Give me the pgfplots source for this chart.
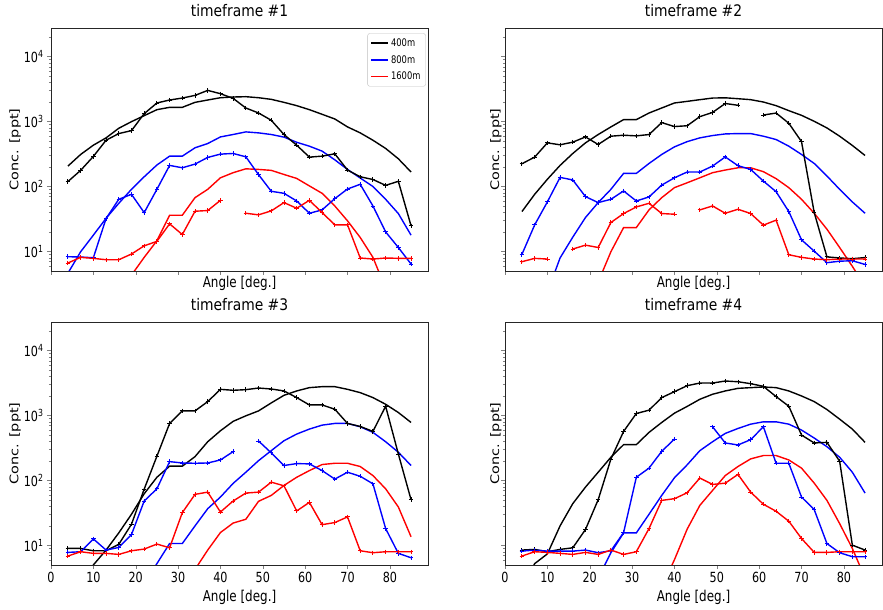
\documentclass[border=0pt]{standalone}
\usepackage{fontspec}
\setmainfont{DejaVu Sans}[FakeStretch=0.8]
\newfontfamily\tffont{DejaVu Sans}[FakeStretch=0.87]
\newfontfamily\rotfont{DejaVu Sans}
\usepackage{pgfplots}
\usepackage{pgfplotstable}
\pgfplotsset{compat=1.18}

% columns: angle, measured (meas) and modelled (model) concentration for the three distances
\pgfplotstableread{
ang meas400 model400 meas800 model800 meas1600 model1600
4  119  206  8.30 4.63 6.64 nan
7  177  311  8.20 9.89 8.11 nan
10 290  432  8.00 17.8 7.82 nan
13 515  560  32.1 32.4 7.46 nan
16 652  787  63.5 55.0 7.46 nan
19 724  995  75.7 90.4 9.12 4.32
22 1321 1230 39.6 141  12.2 8.11
25 1928 1521 90.4 214  14.3 14.6
28 2143 1652 211  293  26.6 36.1
31 2296 1652 194  293  18.2 36.1
34 2523 1972 221  394  41.6 67.3
37 3013 2143 280  458  42.6 90.4
40 2679 2323 315  579  61.2 136
43 2270 2382 322  631  nan  163
46 1614 2410 286  692  38.7 187
49 1352 2323 152  668  36.6 183
52 1045 2193 84.3 631  42.1 177
55 630  1972 78.5 575  56.5 153
58 432  1754 59.8 479  46.2 133
61 283  1521 38.7 417  61.2 102
64 293  1291 43.6 350  39.6 78.5
67 318  1094 65.0 257  25.7 50.1
70 179  826  91.4 183  25.7 29.6
73 141  668  108  135  7.93 16.4
76 128  515  50.1 100  7.64 8.11
79 104  385  20.0 63.5 7.93 2.69
82 120  267  11.5 38.3 7.83 nan
85 24.8 167  6.40 17.8 7.83 nan
}\tfA

\pgfplotstableread{
ang meas400 model400 meas800 model800 meas1600 model1600
4  224  41.1 9.02 nan  6.95 nan
7  283  75.7 25.6 nan  7.82 nan
10 469  129  57.8 2.34 7.64 nan
13 438  211  138  7.94 nan  nan
16 481  322  126  16.6 10.9 nan
19 579  469  69.8 33.3 12.5 nan
22 443  630  56.5 56.5 11.5 3.39
25 594  826  63.5 90.4 27.9 9.89
28 615  1069 85.3 159  38.3 23.3
31 601  1069 59.8 159  48.4 23.3
34 630  1352 69.0 226  55.1 43.6
37 962  1614 105  311  38.3 67.3
40 836  1928 136  407  37.4 95.9
43 861  2042 167  490  nan  114
46 1189 2168 167  560  43.6 136
49 1380 2296 206  608  50.1 163
52 1892 2317 285  644  38.7 179
55 1778 2244 209  652  44.6 194
58 nan  2168 183  652  38.3 194
61 1259 1995 121  594  25.4 169
64 1349 1754 83.2 528  30.3 132
67 940  1469 41.1 417  8.89 95.9
70 490  1245 15.1 311  8.11 63.5
73 39.6 1007 10.1 226  7.64 38.7
76 8.24 796  6.71 145  7.46 22.0
79 7.94 594  7.08 90.4 7.64 11.5
82 7.73 428  7.19 57.8 7.64 5.89
85 8.05 300  6.31 38.7 7.64 2.95
}\tfB

\pgfplotstableread{
ang meas400 model400 meas800 model800 meas1600 model1600
4  8.99 nan  7.82 nan  6.87 nan
7  8.99 2.82 8.00 nan  8.00 nan
10 8.28 5.01 12.6 nan  7.55 nan
13 8.28 8.49 8.49 nan  7.55 nan
16 10.4 15.6 9.31 nan  7.28 nan
19 21.2 30.2 14.7 nan  8.28 nan
22 73.6 62.5 48.3 2.51 8.79 nan
25 236  112  74.5 5.25 10.5 nan
28 755  166  195  10.7 9.20 nan
31 1178 166  186  10.7 32.0 nan
34 1178 233  184  20.0 61.1 4.27
37 1637 395  186  36.8 66.2 8.49
40 2529 582  207  55.6 32.7 15.8
43 2443 813  278  90.2 48.3 22.1
46 2500 989  nan  134  64.0 25.3
49 2649 1178 405  202  66.2 47.8
52 2559 1563 266  288  94.2 58.9
55 2388 2046 170  409  82.8 83.8
58 1888 2388 182  518  34.0 112
61 1455 2685 180  618  46.0 142
64 1455 2780 142  711  20.9 176
67 1250 2780 105  755  22.5 184
70 755  2529 134  755  27.5 184
73 679  2249 116  671  8.28 164
76 569  1888 88.9 550  7.73 119
79 1390 1489 18.2 395  8.00 74.5
82 256  1112 7.55 272  8.00 39.1
85 50.6 782  6.47 170  8.00 13.6
}\tfC

\pgfplotstableread{
ang meas400 model400 meas800 model800 meas1600 model1600
4  8.49 2.00 8.18 nan  6.87 nan
7  8.69 5.25 8.49 nan  8.00 nan
10 8.00 7.41 8.18 nan  7.82 nan
13 8.69 20.0 8.18 nan  7.55 nan
16 9.20 44.0 8.18 nan  7.28 nan
19 17.6 79.1 8.49 nan  7.82 nan
22 50.6 134  7.73 3.16 7.28 nan
25 214  228  8.28 7.73 8.49 nan
28 569  356  15.8 15.6 7.28 nan
31 1074 356  112  15.6 8.00 nan
34 1208 550  155  30.2 18.2 nan
37 1888 782  281  58.9 49.4 2.24
40 2328 1086 434  110  52.4 6.03
43 2877 1380 nan  174  64.7 17.8
46 3162 1778 nan  288  109  41.4
49 3162 2123 671  395  86.9 70.3
52 3396 2388 378  530  91.0 119
55 3311 2618 352  632  124  164
58 3090 2685 425  736  66.2 215
61 2812 2748 671  800  43.0 242
64 1954 2685 184  800  33.6 242
67 1390 2388 184  736  23.6 207
70 500  2000 55.6 597  12.8 155
73 378  1637 35.6 450  7.82 91.0
76 386  1236 10.7 331  7.82 49.4
79 198  879  7.73 228  8.00 21.7
82 10.1 618  6.71 134  8.00 8.99
85 8.49 386  6.71 64.0 8.00 3.16
}\tfD

% settings shared by the four panels
\pgfplotsset{every axis/.append style={
    scale only axis, width=377bp, height=243bp,
    xmin=0, xmax=89, ymin=5, ymax=27500,
    axis line style={black!85, line width=0.8bp},
    tick align=outside, tick pos=left,
    major tick length=4bp, minor tick length=2.2bp,
    xtick={0,10,20,30,40,50,60,70,80},
    ytick={10,100,1000,10000},
    minor ytick={6,7,8,9,20,30,40,50,60,70,80,90,200,300,400,500,600,700,800,900,2000,3000,4000,5000,6000,7000,8000,9000,20000},
    tick label style={font=\fontsize{14}{16}\selectfont},
    title style={font=\tffont\fontsize{16}{19}\selectfont, at={(0.5,1)}, anchor=base, yshift=6bp},
    xlabel style={at={(axis description cs:0.5,0)}, anchor=center, font=\fontsize{15}{18}\selectfont},
    ylabel style={anchor=center, font=\rotfont\fontsize{14.5}{17}\selectfont, yscale=0.82},
}}

% the six curves of one panel: model lines, then measured profiles with + marks
\newcommand\panelcurves[1]{%
  \addplot[black, line width=1.4bp, mark=none, forget plot] table[x=ang, y=model400] {#1};
  \addplot[blue, line width=1.4bp, mark=none, forget plot] table[x=ang, y=model800] {#1};
  \addplot[red, line width=1.4bp, mark=none, forget plot] table[x=ang, y=model1600] {#1};
  \addplot[black, line width=1.4bp, mark=+, mark size=2.2bp, mark options={solid, line width=0.9bp}, forget plot] table[x=ang, y=meas400] {#1};
  \addplot[blue, line width=1.4bp, mark=+, mark size=2.2bp, mark options={solid, line width=0.9bp}, forget plot] table[x=ang, y=meas800] {#1};
  \addplot[red, line width=1.4bp, mark=+, mark size=2.2bp, mark options={solid, line width=0.9bp}, forget plot] table[x=ang, y=meas1600] {#1};
}

\begin{document}
\begin{tikzpicture}
\useasboundingbox (0,0) rectangle (883bp,610bp);

\begin{semilogyaxis}[at={(51bp,339bp)}, anchor=south west,
  unbounded coords=jump,
  title={timeframe \#1},
  xticklabels={},
  yticklabels={10\textsuperscript{1},10\textsuperscript{2},10\textsuperscript{3},10\textsuperscript{4}},
  xlabel={Angle [deg.]}, ylabel={Conc. [ppt]},
  xlabel style={yshift=-12bp},
  ylabel style={at={(axis description cs:-0.0955,0.5)}},
  legend style={at={(axis description cs:0.994,0.978)}, anchor=north east,
    draw=black!25, rounded corners=2bp, fill=white,
    font=\fontsize{10.5}{12}\selectfont, inner xsep=3bp, inner ysep=3bp,
    row sep=3.5bp, cells={anchor=west}}]
\panelcurves{\tfA}
\addlegendimage{legend image code/.code={\draw[black, line width=1.4bp] (0bp,0bp) -- (17bp,0bp);}}
\addlegendentry{400m}
\addlegendimage{legend image code/.code={\draw[blue, line width=1.4bp] (0bp,0bp) -- (17bp,0bp);}}
\addlegendentry{800m}
\addlegendimage{legend image code/.code={\draw[red, line width=1.4bp] (0bp,0bp) -- (17bp,0bp);}}
\addlegendentry{1600m}
\end{semilogyaxis}

\begin{semilogyaxis}[at={(505bp,339bp)}, anchor=south west,
  unbounded coords=jump,
  title={timeframe \#2},
  xticklabels={}, yticklabels={},
  xlabel={Angle [deg.]}, ylabel={Conc. [ppt]},
  xlabel style={yshift=-12bp},
  ylabel style={at={(axis description cs:-0.024,0.5)}}]
\panelcurves{\tfB}
\end{semilogyaxis}

\begin{semilogyaxis}[at={(51bp,45bp)}, anchor=south west,
  unbounded coords=jump,
  title={timeframe \#3},
  xticklabels={0,10,20,30,40,50,60,70,80},
  yticklabels={10\textsuperscript{1},10\textsuperscript{2},10\textsuperscript{3},10\textsuperscript{4}},
  xlabel={Angle [deg.]}, ylabel={Conc. [ppt]},
  xlabel style={yshift=-32bp},
  ylabel style={at={(axis description cs:-0.0955,0.5)}}]
\panelcurves{\tfC}
\end{semilogyaxis}

\begin{semilogyaxis}[at={(505bp,45bp)}, anchor=south west,
  unbounded coords=jump,
  title={timeframe \#4},
  xticklabels={0,10,20,30,40,50,60,70,80}, yticklabels={},
  xlabel={Angle [deg.]}, ylabel={Conc. [ppt]},
  xlabel style={yshift=-32bp},
  ylabel style={at={(axis description cs:-0.024,0.5)}}]
\panelcurves{\tfD}
\end{semilogyaxis}
\end{tikzpicture}
\end{document}
